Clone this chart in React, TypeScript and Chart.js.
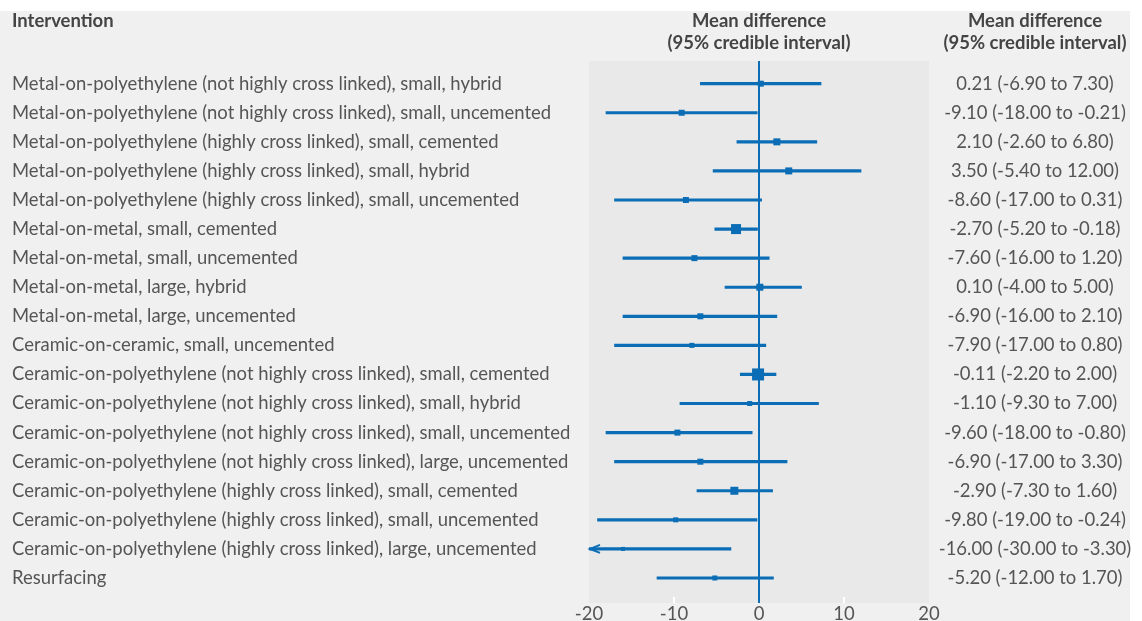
import React, { useEffect, useRef } from 'react';
import { Chart, registerables } from 'chart.js';

Chart.register(...registerables);

const interventions = [
  'Metal-on-polyethylene (not highly cross linked), small, hybrid',
  'Metal-on-polyethylene (not highly cross linked), small, uncemented',
  'Metal-on-polyethylene (highly cross linked), small, cemented',
  'Metal-on-polyethylene (highly cross linked), small, hybrid',
  'Metal-on-polyethylene (highly cross linked), small, uncemented',
  'Metal-on-metal, small, cemented',
  'Metal-on-metal, small, uncemented',
  'Metal-on-metal, large, hybrid',
  'Metal-on-metal, large, uncemented',
  'Ceramic-on-ceramic, small, uncemented',
  'Ceramic-on-polyethylene (not highly cross linked), small, cemented',
  'Ceramic-on-polyethylene (not highly cross linked), small, hybrid',
  'Ceramic-on-polyethylene (not highly cross linked), small, uncemented',
  'Ceramic-on-polyethylene (not highly cross linked), large, uncemented',
  'Ceramic-on-polyethylene (highly cross linked), small, cemented',
  'Ceramic-on-polyethylene (highly cross linked), small, uncemented',
  'Ceramic-on-polyethylene (highly cross linked), large, uncemented',
  'Resurfacing',
];

const meanDiff = [0.21, -9.1, 2.1, 3.5, -8.6, -2.7, -7.6, 0.1, -6.9, -7.9, -0.11, -1.1, -9.6, -6.9, -2.9, -9.8, -16.0, -5.2];
const lowerCI = [-6.9, -18.0, -2.6, -5.4, -17.0, -5.2, -16.0, -4.0, -16.0, -17.0, -2.2, -9.3, -18.0, -17.0, -7.3, -19.0, -30.0, -12.0];
const upperCI = [7.3, -0.21, 6.8, 12.0, 0.31, -0.18, 1.2, 5.0, 2.1, 0.8, 2.0, 7.0, -0.8, 3.3, 1.6, -0.24, -3.3, 1.7];
// relative weight of each estimate (drawn as square side)
const weight = [6, 6, 7, 7, 6, 10, 6, 7, 6, 5, 12, 5, 6, 6, 8, 5, 4, 5];
const xTicks = [-20, -10, 0, 10, 20];

const headerLeft = 'Intervention';
const headerMid = ['Mean difference', '(95% credible interval)'];
const headerRight = ['Mean difference', '(95% credible interval)'];

const BLUE = '#0a6db5';
const TEXT = '#555555';
const HEAD = '#444444';
const FONT = 'Lato, "Noto Sans", sans-serif';

const fmt = (v: number) => v.toFixed(2);

function fitFontSize(): number {
  const c = document.createElement('canvas').getContext('2d');
  if (!c) return 18;
  c.font = `100px ${FONT}`;
  const w = c.measureText(interventions[0]).width;
  const fs = (100 * 490) / w;
  return Math.max(14, Math.min(20, fs));
}

export default function App() {
  const ref = useRef<HTMLCanvasElement>(null);

  useEffect(() => {
    const canvas = ref.current;
    if (!canvas) return;
    const FS = fitFontSize();

    const xMin = xTicks[0];
    const xMax = xTicks[xTicks.length - 1];

    const decor = {
      id: 'decor',
      beforeDraw(chart: any) {
        const { ctx, chartArea, width, height } = chart;
        ctx.save();
        ctx.fillStyle = '#ffffff';
        ctx.fillRect(0, 0, width, height);
        ctx.fillStyle = '#f0f0f0';
        ctx.fillRect(0, 11, 1130, height - 11);
        ctx.fillStyle = '#e9e9e9';
        ctx.fillRect(chartArea.left, chartArea.top, chartArea.right - chartArea.left, chartArea.bottom - chartArea.top);
        ctx.restore();
      },
      afterDatasetsDraw(chart: any) {
        const { ctx, chartArea, scales } = chart;
        const xs = scales.x;
        const ys = scales.y;
        ctx.save();
        ctx.strokeStyle = '#ffffff';
        ctx.lineWidth = 2;
        xTicks.forEach((t) => {
          if (t === 0 || t === xMin || t === xMax) return;
          const px = xs.getPixelForValue(t);
          ctx.beginPath();
          ctx.moveTo(px, chartArea.bottom - 6);
          ctx.lineTo(px, chartArea.bottom);
          ctx.stroke();
        });
        ctx.strokeStyle = BLUE;
        ctx.lineWidth = 2;
        lowerCI.forEach((lo, i) => {
          const py = ys.getPixelForValue(i);
          if (lo < xMin) {
            const px = xs.getPixelForValue(xMin) + 1;
            ctx.beginPath();
            ctx.moveTo(px + 10, py - 4);
            ctx.lineTo(px, py);
            ctx.lineTo(px + 10, py + 4);
            ctx.stroke();
          }
          if (upperCI[i] > xMax) {
            const px = xs.getPixelForValue(xMax) - 1;
            ctx.beginPath();
            ctx.moveTo(px - 10, py - 4);
            ctx.lineTo(px, py);
            ctx.lineTo(px - 10, py + 4);
            ctx.stroke();
          }
        });
        ctx.restore();
      },
      afterDraw(chart: any) {
        const { ctx, chartArea, scales } = chart;
        const ys = scales.y;
        const midX = (chartArea.left + chartArea.right) / 2;
        const rightX = 1035;
        ctx.save();
        ctx.textBaseline = 'middle';
        ctx.fillStyle = HEAD;
        ctx.font = `bold ${FS}px ${FONT}`;
        ctx.textAlign = 'left';
        ctx.fillText(headerLeft, 12, 21);
        ctx.textAlign = 'center';
        headerMid.forEach((t, k) => ctx.fillText(t, midX, 21 + k * 22));
        headerRight.forEach((t, k) => ctx.fillText(t, rightX, 21 + k * 22));
        ctx.font = `${FS}px ${FONT}`;
        ctx.fillStyle = TEXT;
        meanDiff.forEach((m, i) => {
          const py = ys.getPixelForValue(i);
          ctx.fillText(`${fmt(m)} (${fmt(lowerCI[i])} to ${fmt(upperCI[i])})`, rightX, py);
        });
        ctx.restore();
      },
    };

    const chart = new Chart(canvas, {
      type: 'bar',
      data: {
        datasets: [
          {
            type: 'scatter',
            order: 0,
            data: meanDiff.map((m, i) => ({ x: m, y: i })),
            pointStyle: 'rect',
            pointRadius: weight.map((w) => w / Math.SQRT2),
            pointBorderWidth: 0,
            backgroundColor: BLUE,
            borderColor: BLUE,
          } as any,
          {
            type: 'bar',
            order: 1,
            indexAxis: 'y',
            data: lowerCI.map((lo, i) => ({ x: [lo, upperCI[i]], y: i })),
            backgroundColor: BLUE,
            borderWidth: 0,
            barThickness: 2.5,
          } as any,
        ],
      },
      options: {
        responsive: false,
        animation: false,
        events: [],
        layout: { padding: { top: 61, left: 12, right: 213, bottom: 0 } },
        plugins: { legend: { display: false }, tooltip: { enabled: false } },
        scales: {
          x: {
            type: 'linear',
            axis: 'x',
            position: 'bottom',
            offset: false,
            min: xMin,
            max: xMax,
            afterBuildTicks: (s: any) => {
              s.ticks = xTicks.map((v) => ({ value: v }));
            },
            afterFit: (s: any) => {
              s.height = 18;
            },
            border: { display: false },
            grid: {
              offset: false,
              drawTicks: false,
              lineWidth: 2,
              color: (c: any) => (c.tick && c.tick.value === 0 ? BLUE : 'rgba(0,0,0,0)'),
            },
            ticks: {
              padding: 0,
              color: TEXT,
              font: { family: FONT, size: FS },
              autoSkip: false,
              maxRotation: 0,
            },
          },
          y: {
            type: 'linear',
            axis: 'y',
            position: 'left',
            offset: false,
            reverse: true,
            min: -0.78,
            max: interventions.length - 1 + 0.86,
            afterBuildTicks: (s: any) => {
              s.ticks = interventions.map((_, i) => ({ value: i }));
            },
            afterFit: (s: any) => {
              s.width = 577;
            },
            border: { display: false },
            grid: { display: false, offset: false, drawTicks: false },
            ticks: {
              autoSkip: false,
              crossAlign: 'far',
              padding: 0,
              color: TEXT,
              font: { family: FONT, size: FS },
              callback: (v: any) => interventions[v as number] ?? '',
            },
          },
        },
      } as any,
      plugins: [decor],
    });

    return () => chart.destroy();
  }, []);

  return (
    <div style={{ width: 1142, height: 621 }}>
      <style>{'body{margin:0}'}</style>
      <canvas ref={ref} width={1142} height={621} style={{ display: 'block' }} />
    </div>
  );
}
